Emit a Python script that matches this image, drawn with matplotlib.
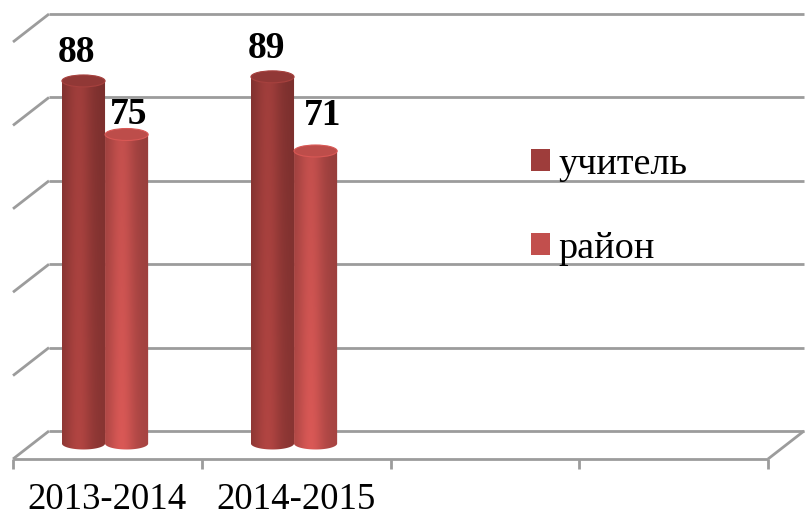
import numpy as np
import matplotlib
matplotlib.use("Agg")
import matplotlib.pyplot as plt
from matplotlib.patches import Polygon, Ellipse, Patch, ConnectionPatch
from matplotlib.transforms import offset_copy

categories = ["2013-2014", "2014-2015", "", ""]
series_names = ["учитель", "район"]
teacher = [88, 89]
district = [75, 71]
y_ticks = [0, 20, 40, 60, 80, 100]

series_colors = [(0.62, 0.24, 0.23), (0.76, 0.31, 0.30)]
cap_colors = [(0.57, 0.22, 0.21), (0.74, 0.30, 0.29)]
bar_width = 0.228
bar_offsets = [-0.127, 0.101]
# pixel nudges for the value labels (dx, dy above the bar top)
label_nudge = [[(-7, 19), (-6, 19)], [(2, 10), (7, 26)]]

W, H = 805, 516
plt.rcParams["font.family"] = ["Liberation Serif", "DejaVu Serif"]
fig = plt.figure(figsize=(W / 100, H / 100), dpi=100)


def px_axes(left, top, right, bottom):
    return fig.add_axes([left / W, 1 - bottom / H, (right - left) / W, (bottom - top) / H])


# back wall (gridlines) and the bar plane
wall = px_axes(49, 14, 804, 431)
wall.set_xlim(-0.5, 3.5)
wall.set_ylim(0, 100)
wall.axis("off")

ax = px_axes(13, 31.5, 769, 484.7)
ax.set_xlim(-0.5, 3.5)
ax.set_ylim(-10, 100)
ax.axis("off")

front = offset_copy(wall.transData, fig=fig, x=-36, y=-28, units="dots")
grid_color = "#9c9c9c"
grid_lw = 2.0
line_kw = dict(color=grid_color, lw=grid_lw, solid_capstyle="butt", clip_on=False)
conn_kw = dict(color=grid_color, lw=grid_lw, capstyle="butt", clip_on=False)

for v in y_ticks:
    wall.plot([-0.5, 3.5], [v, v], **line_kw)
    wall.add_artist(ConnectionPatch((-0.5, v), (-0.5, v), coordsA=wall.transData,
                                    coordsB=front, **conn_kw))

# floor
wall.plot([-0.5, 3.5], [0, 0], transform=front, **line_kw)
wall.add_artist(ConnectionPatch((3.5, 0), (3.5, 0), coordsA=wall.transData,
                                coordsB=front, **conn_kw))
for x in np.arange(len(categories) + 1) - 0.5:
    wall.plot([x], [0], transform=front, marker=3, markersize=7, mew=2.0,
              color=grid_color, clip_on=False)
for i, cat in enumerate(categories):
    wall.annotate(cat, xy=(i, 0), xycoords=front, xytext=(0, -50),
                  textcoords="offset pixels", ha="center", va="baseline",
                  fontsize=26.5, annotation_clip=False)


def cylinder(xc, v, rgb, cap_rgb, z):
    eh = 2.9
    x0, x1 = xc - bar_width / 2, xc + bar_width / 2
    t = np.linspace(0, np.pi, 60)
    bottom = np.column_stack([xc + bar_width / 2 * np.cos(t), -eh / 2 * np.sin(t)])
    outline = np.vstack([[x0, v], [x1, v], bottom])
    clip = Polygon(outline, closed=True, transform=ax.transData, fc="none", ec="none")
    ax.add_patch(clip)

    s = np.linspace(0, 1, 80)
    shade_x = 0.80 + 0.24 * np.exp(-((s - 0.38) / 0.30) ** 2)
    shade_y = np.linspace(1.08, 0.97, 60)[:, None]
    img = np.clip(np.array(rgb)[None, None, :] * (shade_x[None, :, None] * shade_y[:, :, None]), 0, 1)
    im = ax.imshow(img, extent=[x0, x1, -eh, v], aspect="auto", origin="lower",
                   interpolation="bilinear", zorder=z)
    im.set_clip_path(clip)

    ax.add_patch(Ellipse((xc, v), bar_width, eh, fc=cap_rgb,
                         ec=tuple(min(1, c * 1.15) for c in cap_rgb), lw=0.8, zorder=z + 0.5))


for k, vals in enumerate([teacher, district]):
    for i, v in enumerate(vals):
        xc = i + bar_offsets[k]
        cylinder(xc, v, series_colors[k], cap_colors[k], 3 + k)
        dx, dy = label_nudge[k][i]
        ax.annotate(str(v), xy=(xc, v), xytext=(dx, dy), textcoords="offset pixels",
                    ha="center", va="baseline", fontsize=27, fontweight="bold",
                    zorder=10)

handles = [Patch(fc=c, ec="none") for c in series_colors]
wall.legend(handles, series_names, loc="upper left", bbox_to_anchor=(531 / W, 1 - 147 / H),
            bbox_transform=fig.transFigure, frameon=False, fontsize=27.5,
            handlelength=0.5, handleheight=0.5, handletextpad=0.22,
            labelspacing=1.3, borderpad=0, borderaxespad=0)

fig.savefig("out.png", dpi=100)
